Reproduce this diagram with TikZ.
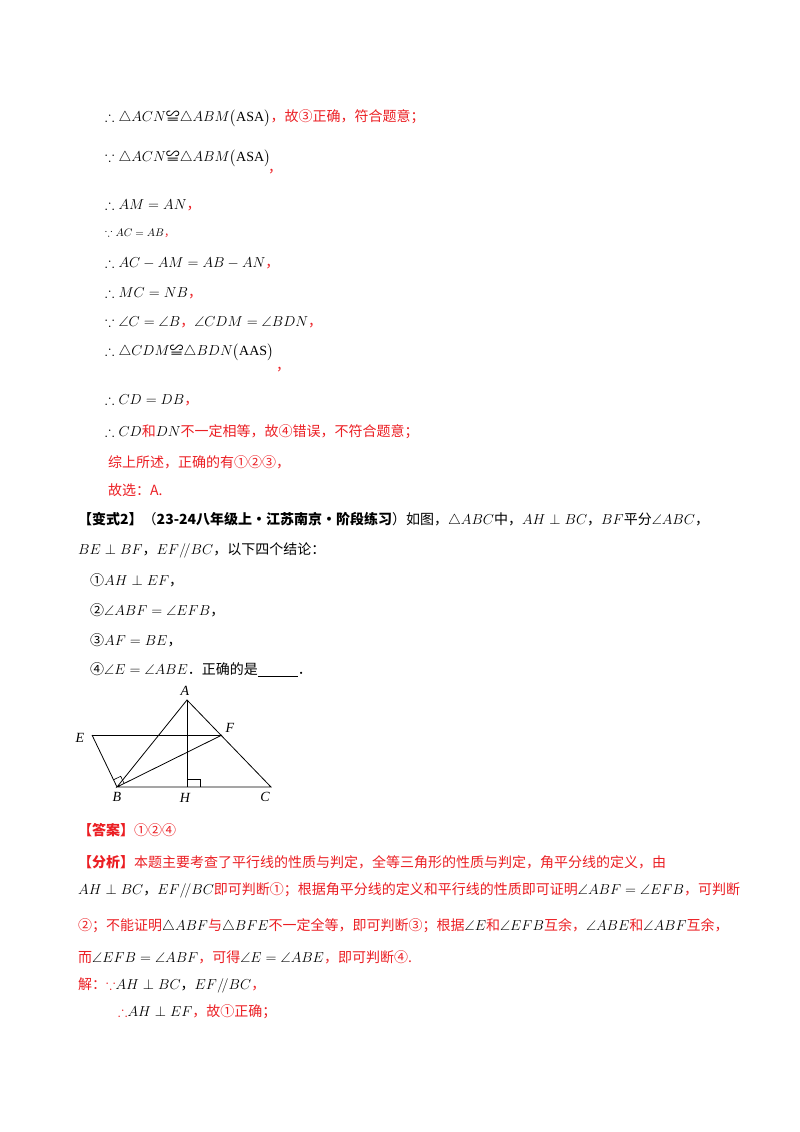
\documentclass[tikz,border=0pt]{standalone}
\usepackage{amsmath,amssymb}
\usepackage{fontspec}
\usetikzlibrary{calc}
\setmainfont{Liberation Serif}
\newfontfamily\cjk{Noto Sans CJK SC}
\definecolor{rd}{RGB}{235,30,35}
\newcommand{\cg}{{\cjk ≌}}
\begin{document}
\begin{tikzpicture}[x=1pt,y=-1pt,
 t/.style={anchor=west,inner sep=0pt,font=\fontsize{14}{17}\selectfont\cjk},
 r/.style={t,text=rd},
 ln/.style={line width=0.8pt},
 lb/.style={inner sep=0pt,font=\fontsize{14}{16}\selectfont\itshape}]
\useasboundingbox (0,0) rectangle (800,1132);
\node[t] (l1) at (105,118) {$\therefore\triangle ACN$\cg$\triangle ABM\bigl(\mathrm{ASA}\bigr)$\textcolor{rd}{，故③正确，符合题意；}};
\node[t] (l2) at (105,158) {$\because\triangle ACN$\cg$\triangle ABM\bigl(\mathrm{ASA}\bigr)$};
\node[r] (l2c) at (268,172) {，};
\node[t] (l3) at (105,205) {$\therefore AM=AN$\textcolor{rd}{，}};
\node[t,font=\fontsize{11}{13}\selectfont\cjk] (l4) at (105,233) {$\because AC=AB$\textcolor{rd}{，}};
\node[t] (l5) at (105,263) {$\therefore AC-AM=AB-AN$\textcolor{rd}{，}};
\node[t] (l6) at (105,293) {$\therefore MC=NB$\textcolor{rd}{，}};
\node[t] (l7) at (105,322) {$\because\angle C=\angle B$\textcolor{rd}{，}$\angle CDM=\angle BDN$\textcolor{rd}{，}};
\node[t] (l8) at (105,352) {$\therefore\triangle CDM$\cg$\triangle BDN\bigl(\mathrm{AAS}\bigr)$};
\node[r] (l8c) at (276,370) {，};
\node[t] (l9) at (105,400) {$\therefore CD=DB$\textcolor{rd}{，}};
\node[r] (l10) at (105,432) {\textcolor{black}{$\therefore CD$}和\textcolor{black}{$DN$}不一定相等，故④错误，不符合题意；};
\node[r] (l11) at (108,462) {综上所述，正确的有①②③，};
\node[r] (l12) at (108,490) {故选：A.};
\node[t] (l13) at (78,520) {\textbf{【变式2】}（\textbf{23-24八年级上·江苏南京·阶段练习}）如图，$\triangle ABC$中，$AH\perp BC$，$BF$平分$\angle ABC$，};
\node[t] (l14) at (78,550) {$BE\perp BF$，$EF/\!/BC$，以下四个结论：};
\node[t] (l15) at (90,580) {①$AH\perp EF$，};
\node[t] (l16) at (90,610) {②$\angle ABF=\angle EFB$，};
\node[t] (l17) at (90,640) {③$AF=BE$，};
\node[t] (l18) at (90,670) {④$\angle E=\angle ABE$．正确的是\rule[-2pt]{40pt}{0.8pt}．};
% figure
\coordinate (A) at (187,700);
\coordinate (E) at (92,735);
\coordinate (F) at (222,735);
\coordinate (B) at (117,787);
\coordinate (H) at (187,787);
\coordinate (C) at (271,787);
\draw[ln] (E) -- (F);
\draw[ln] (E) -- (B) -- (C) -- (A) -- (B) -- (F);
\draw[ln] (A) -- (H);
\draw[line width=0.6pt] ($(H)+(0,-8)$) -- ++(13,0) -- ++(0,8);
\draw[line width=0.6pt] ($(B)!8pt!(E)$) -- ($(B)!8pt!(E)+(B)!8pt!(F)-(B)$) -- ($(B)!8pt!(F)$);
\node[lb] (LA) at (185,691) {A};
\node[lb] (LE) at (80,738) {E};
\node[lb] (LF) at (230,728) {F};
\node[lb] (LB) at (117,797) {B};
\node[lb] (LH) at (185,798) {H};
\node[lb] (LC) at (265,797) {C};
% answer
\node[r] (l19) at (78,830) {\textbf{【答案】}①②④};
\node[r] (l20) at (78,862) {\textbf{【分析】}本题主要考查了平行线的性质与判定，全等三角形的性质与判定，角平分线的定义，由};
\node[r] (l21) at (78,890) {\textcolor{black}{$AH\perp BC$，$EF/\!/BC$}即可判断①；根据角平分线的定义和平行线的性质即可证明\textcolor{black}{$\angle ABF=\angle EFB$}，可判断};
\node[r] (l22) at (78,926) {②；不能证明\textcolor{black}{$\triangle ABF$}与\textcolor{black}{$\triangle BFE$}不一定全等，即可判断③；根据\textcolor{black}{$\angle E$}和\textcolor{black}{$\angle EFB$}互余，\textcolor{black}{$\angle ABE$}和\textcolor{black}{$\angle ABF$}互余，};
\node[r] (l23) at (78,957) {而\textcolor{black}{$\angle EFB=\angle ABF$}，可得\textcolor{black}{$\angle E=\angle ABE$}，即可判断④.};
\node[r] (l24) at (78,985) {解：$\because$\textcolor{black}{$AH\perp BC$，$EF/\!/BC$}，};
\node[r] (l25) at (118,1012) {$\therefore$\textcolor{black}{$AH\perp EF$}，故①正确；};
\end{tikzpicture}
\end{document}
